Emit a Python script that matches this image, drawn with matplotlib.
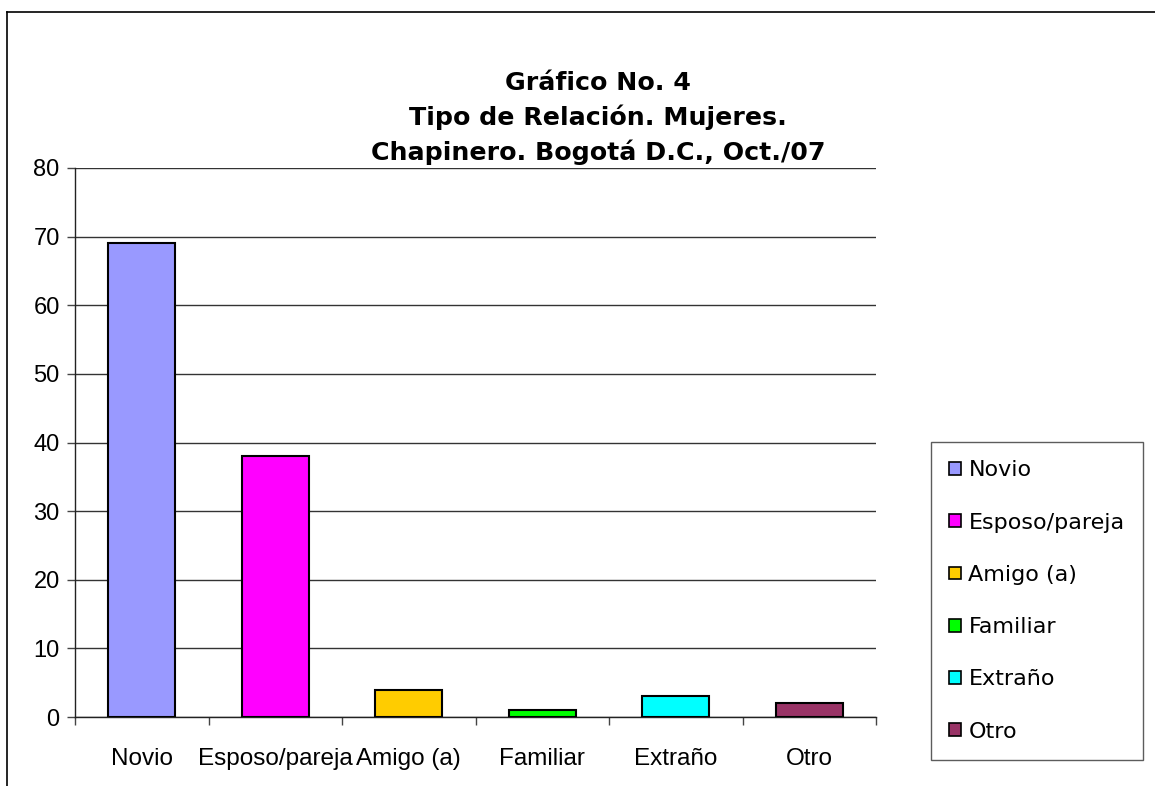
import matplotlib
matplotlib.use('Agg')
import matplotlib.pyplot as plt
from matplotlib.lines import Line2D

# data
categories = ['Novio', 'Esposo/pareja', 'Amigo (a)', 'Familiar', 'Extraño', 'Otro']
values = [69, 38, 4, 1, 3, 2]
colors = ['#9999FF', '#FF00FF', '#FFCC00', '#00FF00', '#00FFFF', '#993366']
y_ticks = [0, 10, 20, 30, 40, 50, 60, 70, 80]

TITLE = 'Gráfico No. 4\nTipo de Relación. Mujeres.\nChapinero. Bogotá D.C., Oct./07'

W, H = 1155, 786
fig = plt.figure(figsize=(W / 100, H / 100), dpi=100)
fig.patch.set_facecolor('white')

ax = fig.add_axes([75 / W, 1 - 717 / H, (876 - 75) / W, (717 - 168) / H])

x = list(range(len(categories)))
bars = ax.bar(x, values, width=0.5, color=colors, edgecolor='black',
              linewidth=1.5, zorder=3, label=categories)

ax.set_xlim(-0.5, len(categories) - 0.5)
ax.set_ylim(0, 80)
ax.set_yticks(y_ticks)
ax.yaxis.grid(True, color='#333333', lw=1.0, zorder=0)

# category separators as major ticks, labels as minor ticks
ax.set_xticks([i - 0.5 for i in range(len(categories) + 1)])
ax.set_xticklabels([])
ax.set_xticks(x, minor=True)
ax.set_xticklabels(categories, minor=True, family='Liberation Sans', fontsize=17.5)
ax.tick_params(axis='x', which='major', length=6, width=1, color='#444444')
ax.tick_params(axis='x', which='minor', length=0, pad=22)
ax.tick_params(axis='y', length=6, width=1, pad=5, color='#444444')
for lbl in ax.get_yticklabels():
    lbl.set_family('Liberation Sans')
    lbl.set_fontsize(17)

for side in ('top', 'right'):
    ax.spines[side].set_visible(False)
for side in ('left', 'bottom'):
    ax.spines[side].set_color('#222222')
    ax.spines[side].set_linewidth(1.0)

fig.text(598 / W, 1 - 118 / H, TITLE, ha='center', va='center',
         family='DejaVu Sans', fontweight='bold', fontsize=18.2, linespacing=1.47)

leg = fig.legend(bars, categories, loc='center',
                 bbox_to_anchor=(1037 / W, 1 - 601 / H),
                 prop={'family': 'DejaVu Sans', 'size': 16},
                 frameon=True, fancybox=False, edgecolor='#333333',
                 handlelength=0.5, handleheight=0.5, handletextpad=0.35,
                 labelspacing=1.45, borderpad=0.85, borderaxespad=0)
leg.get_frame().set_linewidth(1.0)
for h in leg.legend_handles:
    h.set_linewidth(1.2)

# outer chart border (left and top visible)
fig.add_artist(Line2D([7 / W, 7 / W], [0, 1 - 12 / H], color='black', lw=1.2))
fig.add_artist(Line2D([7 / W, 1], [1 - 12 / H, 1 - 12 / H], color='black', lw=1.2))

fig.savefig('out.png', dpi=100)
